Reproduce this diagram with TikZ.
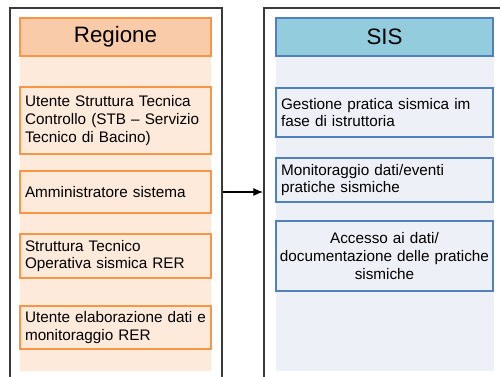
\documentclass[tikz,border=0pt]{standalone}
\usepackage{fontspec}
\setmainfont{Liberation Sans}
\usetikzlibrary{arrows.meta}

\definecolor{orgline}{HTML}{F79646}
\definecolor{orghead}{HTML}{F9CBA8}
\definecolor{orgpale}{HTML}{FDEADA}
\definecolor{bluline}{HTML}{4F81BD}
\definecolor{bluhead}{HTML}{93CDDD}
\definecolor{blupale}{HTML}{EDF0F6}
\definecolor{framegray}{HTML}{3A3A3A}

\newcommand{\rline}[1]{\mbox{#1}}

\tikzstyle{frame}=[draw=framegray, line width=1.1pt, inner sep=0pt]
\tikzstyle{reghead}=[draw=orgline, line width=1pt, fill=orghead, inner sep=0pt, minimum width=3.82cm, minimum height=0.76cm, font=\fontsize{12.7}{14}\selectfont]
\tikzstyle{sishead}=[reghead, draw=bluline, fill=bluhead, minimum width=4.34cm]
\tikzstyle{regbox}=[draw=orgline, line width=1pt, fill=orgpale, text width=3.62cm, inner xsep=0.1cm, inner ysep=0pt, align=left, font=\fontsize{8.7}{10}\selectfont]
\tikzstyle{sisbox}=[regbox, draw=bluline, fill=blupale, text width=4.14cm]
\tikzstyle{msg}=[-{Latex[length=5.5pt,width=4.5pt]}, line width=0.6pt]

\begin{document}
\begin{tikzpicture}[x=0.02cm, y=-0.02cm]
    \useasboundingbox (0,0) rectangle (500,376);
    % outer frames
    \node[frame, minimum width=4.24cm, minimum height=7.64cm] (regione) at (116, 199) {};
    \node[frame, minimum width=4.92cm, minimum height=7.64cm] (sis) at (387, 199) {};
    % pale panels
    \fill[orgpale] (20,18) rectangle (211,371);
    \fill[blupale] (276,18) rectangle (494,371);
    % Regione
    \node[reghead] (reghd) at (115.5, 37) {Regione};
    \node[regbox, minimum height=1.34cm] (stb) at (115.5, 120.5) {\rline{Utente Struttura Tecnica}\\\rline{Controllo (STB -- Servizio}\\\rline{Tecnico di Bacino)}};
    \node[regbox, minimum height=0.84cm] (amm) at (115.5, 192) {Amministratore sistema};
    \node[regbox, minimum height=0.88cm] (sto) at (115.5, 256) {\rline{Struttura Tecnico}\\\rline{Operativa sismica RER}};
    \node[regbox, minimum height=0.86cm] (elab) at (115.5, 327.5) {\rline{Utente elaborazione dati e}\\\rline{monitoraggio RER}};
    % SIS
    \node[sishead] (sishd) at (384.5, 37) {SIS};
    \node[sisbox, minimum height=0.98cm] (gest) at (384.5, 112.5) {\rline{Gestione pratica sismica im}\\\rline{fase di istruttoria}};
    \node[sisbox, minimum height=0.88cm] (moni) at (384.5, 180) {\rline{Monitoraggio dati/eventi}\\\rline{pratiche sismiche}};
    \node[sisbox, minimum height=1.40cm, align=center, text width=4.30cm, inner xsep=0.02cm] (acc) at (384.5, 256) {\rline{Accesso ai dati/}\\\rline{documentazione delle pratiche}\\\rline{sismiche}};
    \draw[msg] (regione.east |- amm) -- (sis.west |- amm);
\end{tikzpicture}
\end{document}
